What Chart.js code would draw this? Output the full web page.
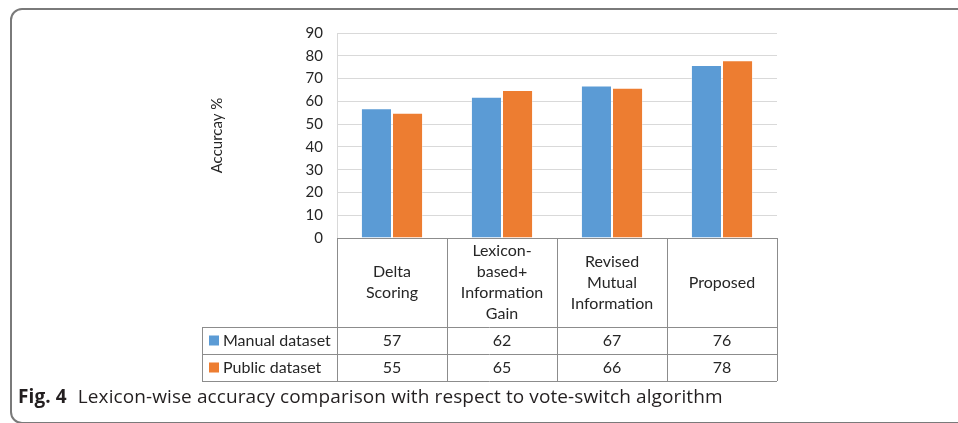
<!DOCTYPE html>
<html>
<head>
<meta charset="utf-8">
<script src="https://cdn.jsdelivr.net/npm/chart.js@4/dist/chart.umd.min.js"></script>
<style>
    html, body { margin: 0; padding: 0; background: #fff; overflow: hidden; }
    #wrap { position: relative; width: 958px; height: 423px; }
    #frame {
        position: absolute; left: 10px; top: 8px; width: 1000px; height: 412px;
        border: 2px solid #7a7a7a; border-radius: 12px;
    }
    #chart { position: absolute; left: 0; top: 0; }
    #caption {
        position: absolute; left: 18px; top: 383px;
        font-family: "Open Sans", sans-serif; font-size: 19px; color: #231f20;
        letter-spacing: 0.1px; white-space: nowrap;
    }
    #caption b { margin-right: 6px; }
</style>
</head>
<body>
<div id="wrap">
    <div id="frame"></div>
    <canvas id="chart" width="958" height="423"></canvas>
    <div id="caption"><b>Fig. 4</b> Lexicon-wise accuracy comparison with respect to vote-switch algorithm</div>
</div>
<script>
// data
var categories = [
    ["Delta", "Scoring"],
    ["Lexicon-", "based+", "Information", "Gain"],
    ["Revised", "Mutual", "Information"],
    ["Proposed"]
];
var seriesNames = ["Manual dataset", "Public dataset"];
var manualValues = [57, 62, 67, 76];
var publicValues = [55, 65, 66, 78];
var yMax = 90;
var yStep = 10;

var colors = ["#5b9bd5", "#ed7d31"];
var fontFamily = "Lato, 'Open Sans', sans-serif";

// TABLE UNDER THE CHART
var dataTable = {
    id: "dataTable",
    afterDraw: function (chart) {
        var ctx = chart.ctx;
        var area = chart.chartArea;
        var n = categories.length;
        var colW = (area.right - area.left) / n;
        var top = area.bottom;
        var headBottom = 327;
        var rowH = 27;
        var bottom = headBottom + rowH * 2;
        var legendLeft = 202;
        var series = [manualValues, publicValues];

        ctx.save();
        ctx.strokeStyle = "#8c8c8c";
        ctx.lineWidth = 1;
        ctx.beginPath();
        // axis line + horizontal rows
        ctx.moveTo(area.left, Math.round(top) + 0.5); ctx.lineTo(area.right, Math.round(top) + 0.5);
        for (var r = 0; r < 3; r++) {
            var y = headBottom + rowH * r + 0.5;
            ctx.moveTo(legendLeft, y); ctx.lineTo(area.right, y);
        }
        // vertical lines
        for (var i = 0; i <= n; i++) {
            var x = Math.round(area.left + colW * i) + 0.5;
            ctx.moveTo(x, top); ctx.lineTo(x, bottom);
        }
        ctx.moveTo(legendLeft + 0.5, headBottom); ctx.lineTo(legendLeft + 0.5, bottom);
        ctx.stroke();

        ctx.fillStyle = "#262626";
        ctx.font = "16px " + fontFamily;
        ctx.textAlign = "center";
        ctx.textBaseline = "middle";
        var lineH = 21;
        var midHead = (top + headBottom) / 2;
        categories.forEach(function (lines, i) {
            var cx = chart.scales.x.getPixelForValue(i);
            var y0 = midHead - (lines.length - 1) * lineH / 2;
            lines.forEach(function (t, k) {
                ctx.fillText(t, cx, y0 + k * lineH);
            });
        });

        series.forEach(function (vals, s) {
            var cy = headBottom + rowH * s + rowH / 2;
            ctx.fillStyle = colors[s];
            ctx.fillRect(legendLeft + 7, cy - 5, 10, 10);
            ctx.fillStyle = "#262626";
            ctx.textAlign = "left";
            ctx.fillText(seriesNames[s], legendLeft + 21, cy);
            ctx.textAlign = "center";
            vals.forEach(function (v, i) {
                ctx.fillText(String(v), chart.scales.x.getPixelForValue(i), cy);
            });
        });
        ctx.restore();
    }
};

new Chart(document.getElementById("chart"), {
    type: "bar",
    data: {
        labels: categories.map(function (c) { return c.join(" "); }),
        datasets: [{
            label: seriesNames[0],
            data: manualValues,
            backgroundColor: colors[0],
            borderColor: "rgba(255,255,255,0.35)",
            borderWidth: 1
        }, {
            label: seriesNames[1],
            data: publicValues,
            backgroundColor: colors[1],
            borderColor: "rgba(255,255,255,0.35)",
            borderWidth: 1
        }]
    },
    options: {
        responsive: false,
        animation: false,
        devicePixelRatio: 1,
        layout: { padding: { left: 208, top: 33, right: 181, bottom: 185 } },
        datasets: { bar: { categoryPercentage: 0.565, barPercentage: 1 } },
        plugins: { legend: { display: false }, tooltip: { enabled: false } },
        scales: {
            x: {
                afterFit: function (scale) { scale.height = 0; },
                ticks: { display: false },
                grid: { display: false },
                border: { display: false }
            },
            y: {
                min: 0,
                max: yMax,
                afterFit: function (scale) { scale.width = 337 - 208; },
                ticks: {
                    stepSize: yStep,
                    padding: 14,
                    color: "#262626",
                    font: { family: fontFamily, size: 15 }
                },
                grid: { color: "#d9d9d9", drawTicks: false },
                border: { color: "#d9d9d9" },
                title: {
                    display: true,
                    text: "Accurcay %",
                    color: "#262626",
                    padding: 0,
                    font: { family: fontFamily, size: 15 }
                }
            }
        }
    },
    plugins: [dataTable]
});
</script>
</body>
</html>
